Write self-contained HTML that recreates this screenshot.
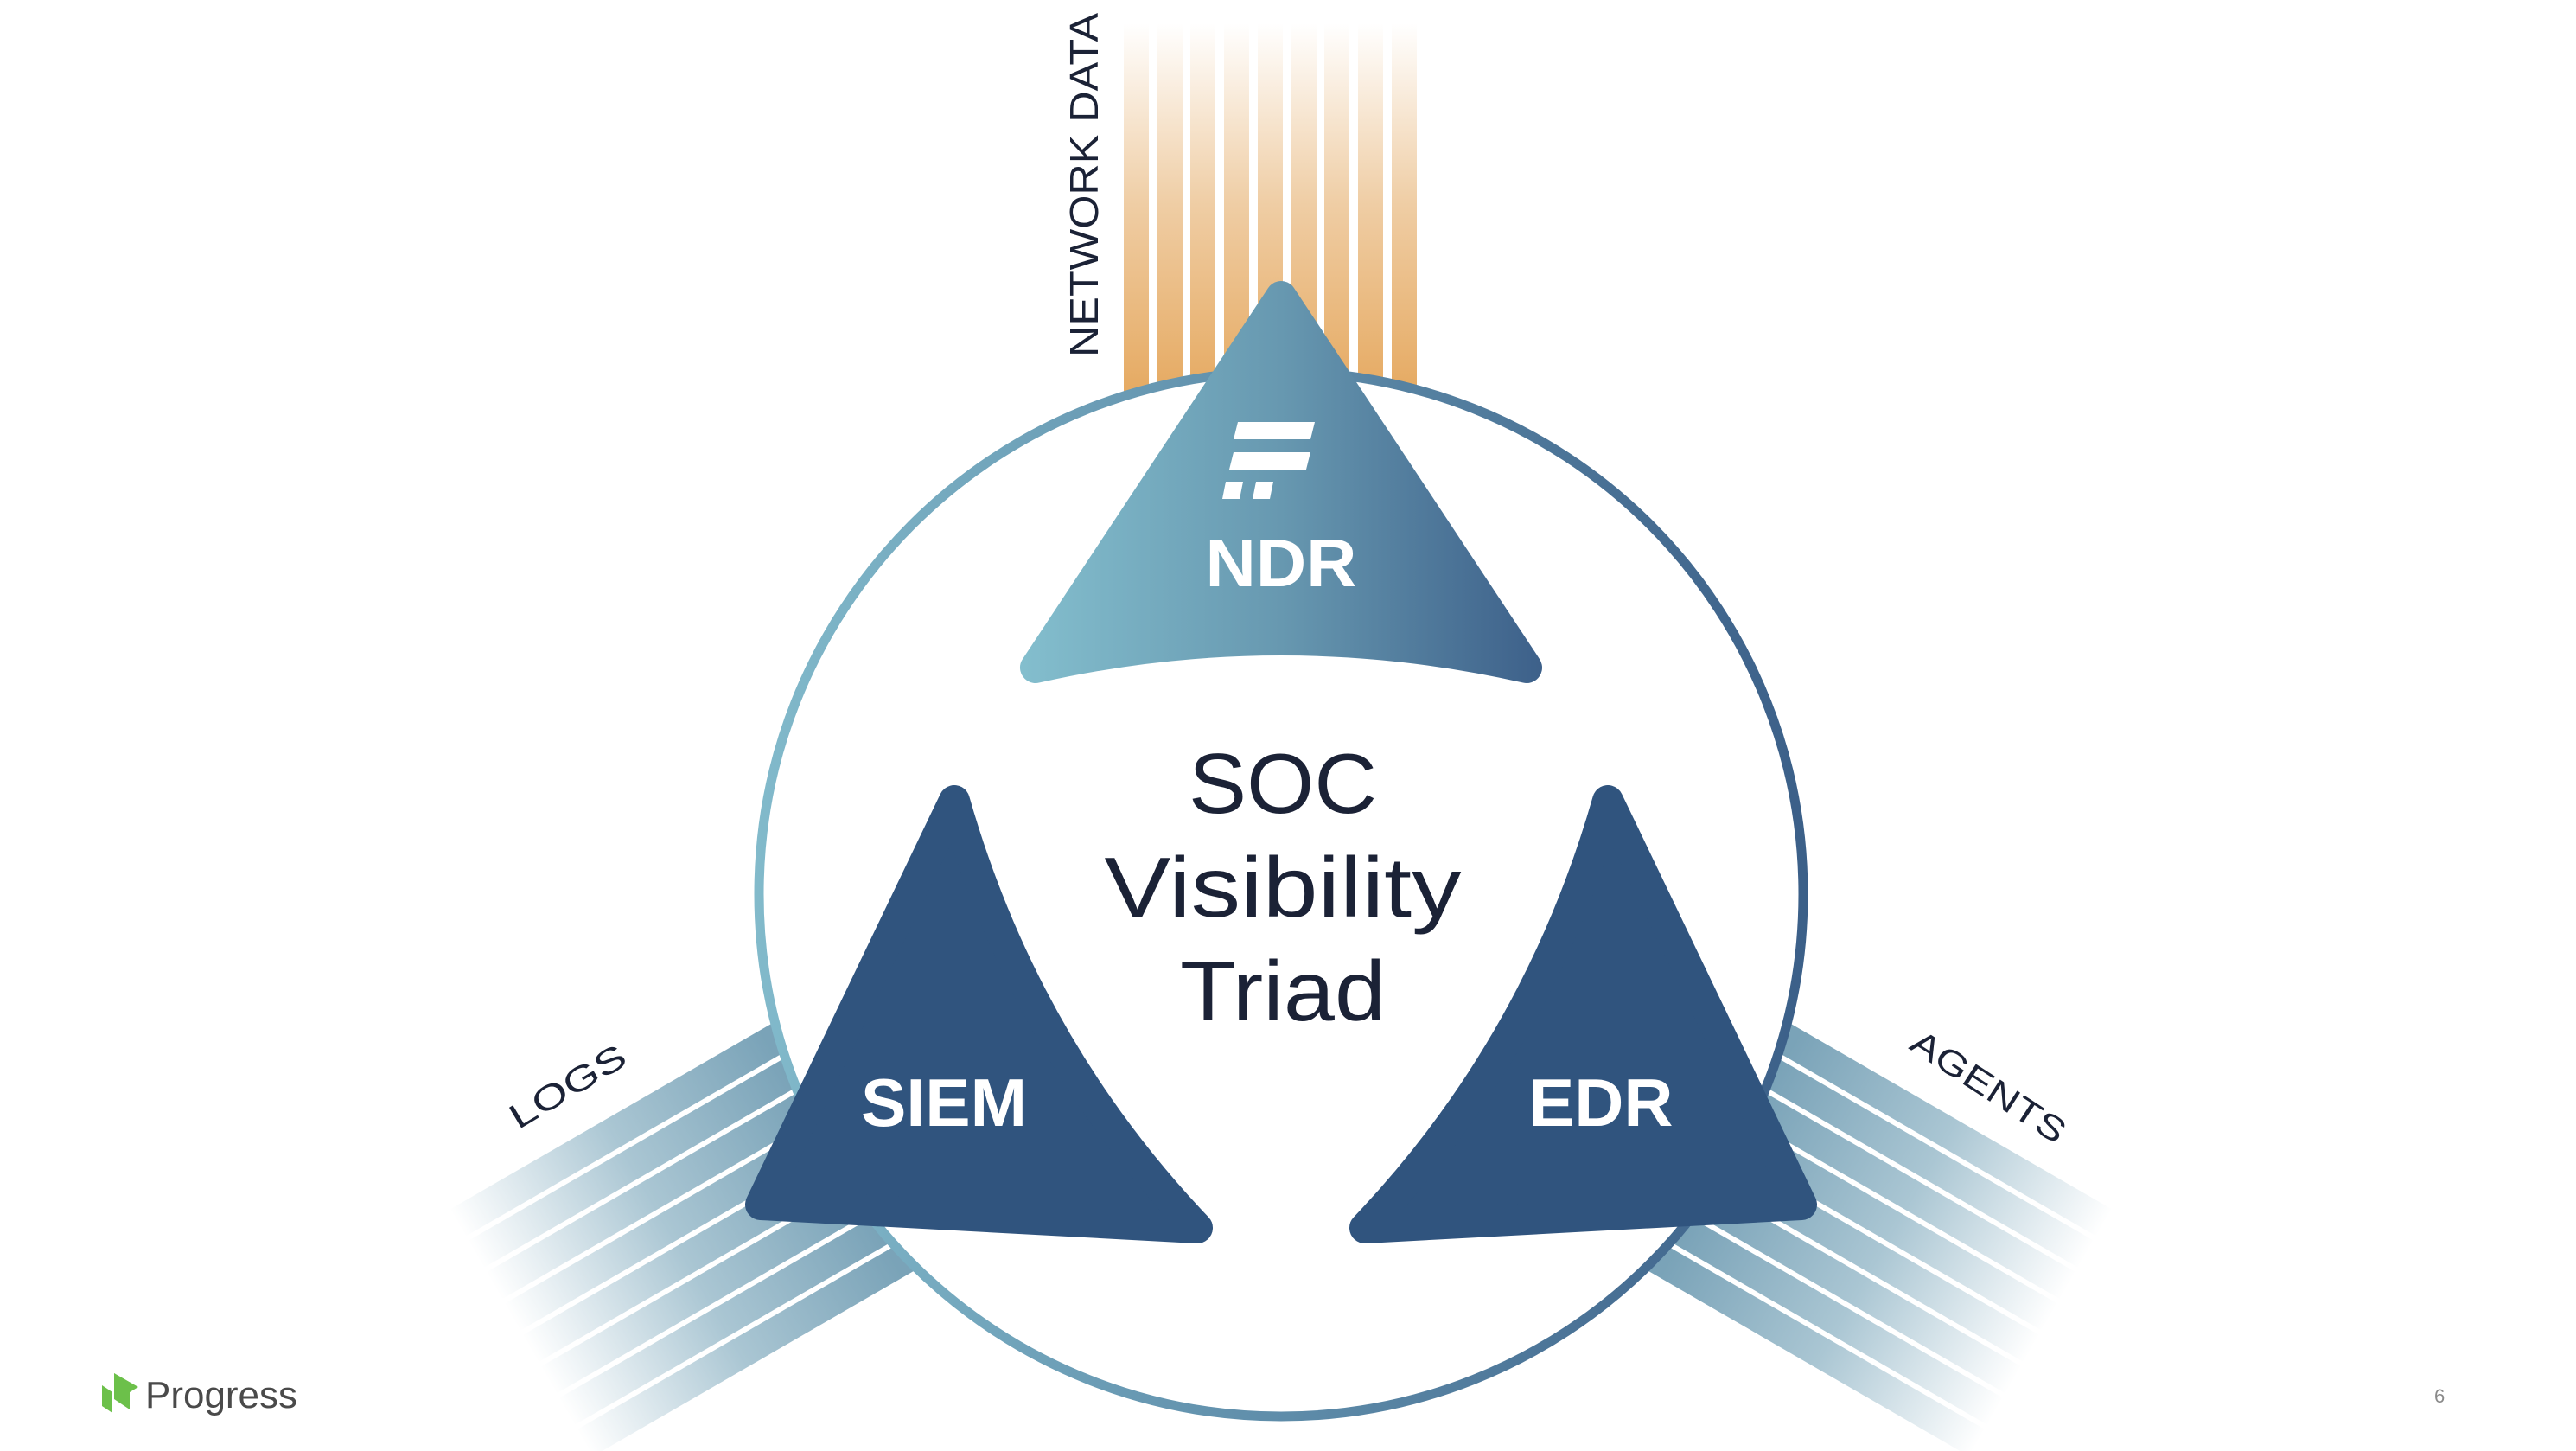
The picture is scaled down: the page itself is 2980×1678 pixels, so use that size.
<!DOCTYPE html>
<html><head><meta charset="utf-8"><style>
html,body{margin:0;padding:0;background:#fff;}
svg{display:block;}
text{font-family:"Liberation Sans",sans-serif;}
</style></head><body>
<svg width="2980" height="1678" viewBox="0 0 2980 1678" xmlns="http://www.w3.org/2000/svg">
<defs>
<linearGradient id="og" x1="0" y1="447" x2="0" y2="27" gradientUnits="userSpaceOnUse">
<stop offset="0" stop-color="#e6ab64"/><stop offset="0.5" stop-color="#efcda4"/><stop offset="1" stop-color="#ffffff"/>
</linearGradient>
<linearGradient id="bg" x1="600" y1="0" x2="1015" y2="0" gradientUnits="userSpaceOnUse">
<stop offset="0" stop-color="#7aa3b8"/><stop offset="0.5" stop-color="#aac6d3"/><stop offset="1" stop-color="#ffffff"/>
</linearGradient>
<linearGradient id="cg" x1="870" y1="0" x2="2094" y2="0" gradientUnits="userSpaceOnUse">
<stop offset="0" stop-color="#82bacb"/><stop offset="1" stop-color="#3b5f88"/>
</linearGradient>
<linearGradient id="ng" x1="1175" y1="0" x2="1790" y2="0" gradientUnits="userSpaceOnUse">
<stop offset="0" stop-color="#84bfce"/><stop offset="0.5" stop-color="#6798b0"/><stop offset="1" stop-color="#3c5f89"/>
</linearGradient>
<g id="bband">
<rect x="0" y="-165" width="1015" height="36" fill="url(#bg)"/>
<rect x="0" y="-123" width="1015" height="36" fill="url(#bg)"/>
<rect x="0" y="-81" width="1015" height="36" fill="url(#bg)"/>
<rect x="0" y="-39" width="1015" height="36" fill="url(#bg)"/>
<rect x="0" y="3" width="1015" height="36" fill="url(#bg)"/>
<rect x="0" y="45" width="1015" height="36" fill="url(#bg)"/>
<rect x="0" y="87" width="1015" height="36" fill="url(#bg)"/>
<rect x="0" y="129" width="1015" height="36" fill="url(#bg)"/>
</g>
</defs>

<g fill="url(#og)">
<rect x="1300" y="27" width="29" height="440"/>
<rect x="1339" y="27" width="29" height="440"/>
<rect x="1377" y="27" width="29" height="440"/>
<rect x="1416" y="27" width="29" height="440"/>
<rect x="1455" y="27" width="29" height="440"/>
<rect x="1494" y="27" width="29" height="440"/>
<rect x="1532" y="27" width="29" height="440"/>
<rect x="1571" y="27" width="29" height="440"/>
<rect x="1610" y="27" width="29" height="440"/>
</g>
<use href="#bband" transform="translate(1482,1034) rotate(150)"/>
<use href="#bband" transform="translate(1482,1034) rotate(30)"/>

<circle cx="1482" cy="1034" r="604" fill="#fff" stroke="url(#cg)" stroke-width="11"/>

<path d="M1482 343 L1766 772 Q1482 708 1198 772 Z" fill="url(#ng)" stroke="url(#ng)" stroke-width="36" stroke-linejoin="round"/>
<g fill="#fff">
<polygon points="1432,488 1521,488 1516,508 1427,508"/>
<polygon points="1427,523 1516,523 1511,543 1422,543"/>
<polygon points="1418,557 1438,557 1434,577 1414,577"/>
<polygon points="1453,557 1473,557 1469,577 1449,577"/>
</g>
<text x="1482" y="678" font-size="78" font-weight="bold" fill="#fff" text-anchor="middle" textLength="175" lengthAdjust="spacingAndGlyphs">NDR</text>

<path d="M1104 926 L880 1393 L1385 1420 Q1185 1210 1104 926 Z" fill="#30547e" stroke="#30547e" stroke-width="36" stroke-linejoin="round"/>
<text x="1092" y="1302" font-size="78" font-weight="bold" fill="#fff" text-anchor="middle" textLength="192" lengthAdjust="spacingAndGlyphs">SIEM</text>
<path d="M1860 926 L2084 1393 L1579 1420 Q1779 1210 1860 926 Z" fill="#30547e" stroke="#30547e" stroke-width="36" stroke-linejoin="round"/>
<text x="1852" y="1302" font-size="78" font-weight="bold" fill="#fff" text-anchor="middle" textLength="167" lengthAdjust="spacingAndGlyphs">EDR</text>

<g fill="#1b2236" text-anchor="middle" font-size="98">
<text x="1484" y="940" textLength="218" lengthAdjust="spacingAndGlyphs">SOC</text>
<text x="1484" y="1060" textLength="413" lengthAdjust="spacingAndGlyphs">Visibility</text>
<text x="1484" y="1180" textLength="238" lengthAdjust="spacingAndGlyphs">Triad</text>
</g>

<text transform="translate(1270,214) rotate(-90)" font-size="46" fill="#1b2236" text-anchor="middle" textLength="398" lengthAdjust="spacingAndGlyphs">NETWORK DATA</text>
<text transform="translate(657,1257) rotate(-31)" font-size="40" fill="#1b2236" text-anchor="middle" dominant-baseline="central" textLength="150" lengthAdjust="spacingAndGlyphs">LOGS</text>
<text transform="translate(2300,1257) rotate(33)" font-size="40" fill="#1b2236" text-anchor="middle" dominant-baseline="central" textLength="205" lengthAdjust="spacingAndGlyphs">AGENTS</text>

<g fill="#6cc04a">
<polygon points="132,1588 150,1602 150,1630 132,1618"/>
<polygon points="118,1602 130,1610 130,1634 118,1626"/>
<polygon points="132,1588 160,1604 150,1610 132,1600"/>
</g>
<text x="168" y="1628" font-size="44" fill="#4a4a4a" textLength="176" lengthAdjust="spacingAndGlyphs">Progress</text>
<text x="2816" y="1622" font-size="22" fill="#8a8a8a">6</text>
</svg>
</body></html>
